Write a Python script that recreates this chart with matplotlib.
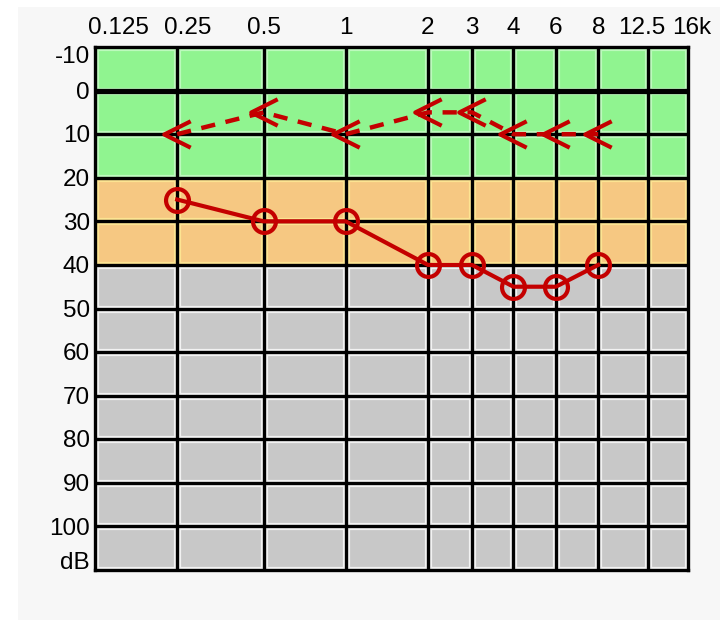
import numpy as np
import matplotlib
matplotlib.use('Agg')
import matplotlib.pyplot as plt
from matplotlib.path import Path
from matplotlib.patches import Rectangle
from matplotlib.transforms import offset_copy

# audiogram data (frequency in kHz, hearing level in dB)
freq_labels = ['0.125', '0.25', '0.5', '1', '2', '3', '4', '6', '8', '12.5', '16k']
db_labels = ['-10', '0', '10', '20', '30', '40', '50', '60', '70', '80', '90', '100', 'dB']
db_values = [-10, 0, 10, 20, 30, 40, 50, 60, 70, 80, 90, 100, 108]

test_freqs = ['0.25', '0.5', '1', '2', '3', '4', '6', '8']
air_db = [25, 30, 30, 40, 40, 45, 45, 40]
bone_db = [10, 5, 10, 5, 5, 10, 10, 10]

# x layout of the audiogram grid (octaves with half-octave lines)
grid_x = [0, 0.97, 1.99, 2.96, 3.93, 4.45, 4.94, 5.44, 5.94, 6.53, 7]
xmap = dict(zip(freq_labels, grid_x))

plt.rcParams['font.family'] = ['Liberation Sans', 'DejaVu Sans']

fig = plt.figure(figsize=(7.2, 6.2), dpi=100)
fig.patch.set_facecolor('white')
fig.patches.append(Rectangle((18 / 720, 0), 1, 1 - 7 / 620, transform=fig.transFigure,
                             facecolor='#f7f7f7', edgecolor='none', zorder=-10))

ax = fig.add_axes([95 / 720, 1 - 570 / 620, 593 / 720, 523 / 620])
ax.set_xlim(0, 7)
ax.set_ylim(110, -10)

# colour bands with a lighter bevel next to each grid line
bands = [(-10, 20, '#90f490', '#bdfabd'),
         (20, 40, '#f6c882', '#fde492'),
         (40, 110, '#c8c8c8', '#f2f2f2')]
for y0, y1, col, light in bands:
    ax.axhspan(y0, y1, color=col, zorder=0)
    clip = Rectangle((0, y0), 7, y1 - y0, transform=ax.transData)
    vl = ax.vlines(grid_x, y0, y1, color=light, lw=5.2, zorder=1)
    hl = ax.hlines(np.arange(y0, y1 + 1, 10), 0, 7, color=light, lw=5.2, zorder=1)
    vl.set_clip_path(clip)
    hl.set_clip_path(clip)

# black grid
ax.vlines(grid_x[1:-1], -10, 110, color='black', lw=2.4, zorder=2)
ax.hlines([y for y in range(10, 110, 10)], 0, 7, color='black', lw=2.4, zorder=2)
ax.hlines(0, 0, 7, color='black', lw=3.8, zorder=2)
for s in ax.spines.values():
    s.set_linewidth(2.4)
    s.set_color('black')
    s.set_zorder(5)

red = '#c40000'
ax_x = [xmap[f] for f in test_freqs]

# air conduction: circles, solid
ax.plot(ax_x, air_db, color=red, lw=3, marker='o', ms=16.5, mfc='none',
        mec=red, mew=3, zorder=4, clip_on=False)

# bone conduction: open "<" chevrons, dashed
chevron = Path([(1, 1), (-1, 0), (1, -1)], [Path.MOVETO, Path.LINETO, Path.LINETO])
ax.plot(ax_x, bone_db, color=red, lw=3.2, ls=(0, (3.2, 2.4)), zorder=4)
ax.plot(ax_x, bone_db, ls='none', marker=chevron, ms=19, mfc='none', mec=red,
        mew=3, zorder=4)

ax.set_xticks([])
ax.set_yticks([])

# frequency labels along the top
x_shift = [23, 11, 0, 0, 0, 0, 0, 0, 0, -6, 4]
for lab, x, dx in zip(freq_labels, grid_x, x_shift):
    tr = offset_copy(ax.get_xaxis_transform(), fig=fig, x=dx, y=8, units='dots')
    ax.text(x, 1, lab, transform=tr, ha='center', va='bottom', fontsize=17.5)

# level labels on the left
for lab, y in zip(db_labels, db_values):
    yy = -7.7 if y == -10 else y + 0.5
    tr = offset_copy(ax.get_yaxis_transform(), fig=fig, x=-5, y=0, units='dots')
    ax.text(0, yy, lab, transform=tr, ha='right', va='center', fontsize=17.5)

fig.savefig('out.png', dpi=100)
